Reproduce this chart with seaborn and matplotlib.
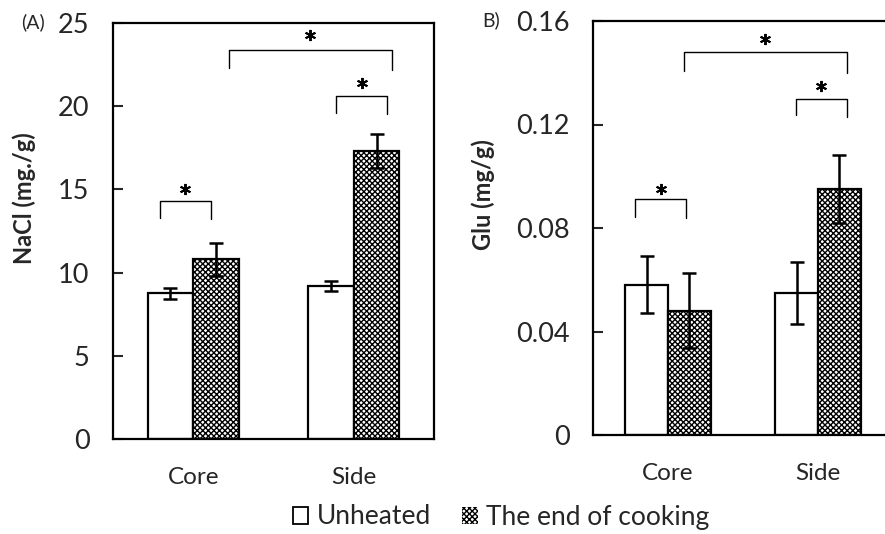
import matplotlib
matplotlib.use("Agg")
import matplotlib.pyplot as plt
import seaborn as sns
import pandas as pd
from matplotlib.patches import Patch

sites = ["Core", "Side"]
treatments = ["Unheated", "The end of cooking"]
nacl_unheated = [8.75, 9.2]
nacl_cooked = [10.8, 17.3]
nacl_err_unheated = [0.35, 0.28]
nacl_err_cooked = [1.0, 1.0]
glu_unheated = [0.058, 0.0549]
glu_cooked = [0.048, 0.0951]
glu_err_unheated = [0.011, 0.012]
glu_err_cooked = [0.0145, 0.013]

# significance brackets: (x_left, x_right, top, left_leg_bottom, right_leg_bottom, star_y)
nacl_brackets = [(-0.21, 0.11, 14.3, 13.3, 13.2, 15.0),
                 (0.89, 1.21, 20.6, 19.6, 19.55, 21.4),
                 (0.22, 1.24, 23.4, 22.3, 22.2, 24.3)]
glu_brackets = [(-0.22, 0.12, 0.0912, 0.0843, 0.0839, 0.0950),
                (0.85, 1.19, 0.130, 0.1237, 0.123, 0.1348),
                (0.107, 1.19, 0.148, 0.1407, 0.140, 0.1530)]

sns.set_theme(style="white")
plt.rcParams["font.family"] = ["Lato", "DejaVu Sans"]
plt.rcParams["hatch.linewidth"] = 1.0
HATCH = "xxxxxx"

fig = plt.figure(figsize=(8.85, 5.34), dpi=100)
axA = fig.add_axes([113/885, 1-439/534, 321/885, 416/534])
axB = fig.add_axes([593/885, 1-435/534, 300/885, 414/534])


def draw(ax, unheated, cooked, eu, ec, ylim, yticks, yticklabels, ylabel,
         brackets, label_x):
    df = pd.DataFrame({
        "site": sites * 2,
        "treatment": [treatments[0]] * 2 + [treatments[1]] * 2,
        "value": list(unheated) + list(cooked),
    })
    sns.barplot(data=df, x="site", y="value", hue="treatment", order=sites,
                hue_order=treatments, palette=["white", "white"], edgecolor="black",
                linewidth=1.6, width=0.57, errorbar=None, legend=False, ax=ax)
    for bar in ax.containers[1]:
        bar.set_hatch(HATCH)
    for cont, errs in zip(ax.containers, [eu, ec]):
        xs = [b.get_x() + b.get_width() / 2 for b in cont]
        ys = [b.get_height() for b in cont]
        ax.errorbar(xs, ys, yerr=errs, fmt="none", ecolor="black",
                    elinewidth=1.8, capsize=5, capthick=1.8, zorder=5)
    for (x0, x1, top, b0, b1, sy) in brackets:
        ax.plot([x0, x0, x1, x1], [b0, top, top, b1], color="black", lw=1.0,
                clip_on=False)
        ax.plot([(x0 + x1) / 2], [sy], marker=(6, 2, 0), markersize=8,
                markeredgewidth=1.4, color="black", clip_on=False)
    ax.set_xlim(-0.5, 1.5)
    ax.set_ylim(*ylim)
    ax.set_yticks(yticks)
    ax.set_yticklabels(yticklabels)
    ax.set_xlabel("")
    ax.set_ylabel(ylabel, fontsize=17, fontweight="bold")
    ax.yaxis.set_label_coords(label_x, 0.58)
    ax.tick_params(axis="y", direction="in", length=7, width=1.5, left=True,
                   pad=17, labelsize=19.5)
    ax.tick_params(axis="x", length=0, pad=20, labelsize=17.5)
    for s in ax.spines.values():
        s.set_linewidth(1.6)
        s.set_color("black")


draw(axA, nacl_unheated, nacl_cooked, nacl_err_unheated, nacl_err_cooked,
     (0, 25), [0, 5, 10, 15, 20, 25], ["0", "5", "10", "15", "20", "25"],
     "NaCl (mg./g)", nacl_brackets, (36 - 113) / 321)
draw(axB, glu_unheated, glu_cooked, glu_err_unheated, glu_err_cooked,
     (0, 0.16), [0, 0.04, 0.08, 0.12, 0.16], ["0", "0.04", "0.08", "0.12", "0.16"],
     "Glu (mg/g)", glu_brackets, (495 - 593) / 300)

fig.text(33/885, 1-22/534, "(A)", fontsize=14, ha="center", va="center")
fig.text(491/885, 1-20/534, "B)", fontsize=14, ha="center", va="center")

handles = [Patch(facecolor="white", edgecolor="black", linewidth=1.3, label=treatments[0]),
           Patch(facecolor="white", edgecolor="black", linewidth=0, hatch=HATCH,
                 label=treatments[1])]
fig.legend(handles=handles, loc="center", bbox_to_anchor=(501/885, 1-517/534), ncol=2,
           frameon=False, fontsize=19, handlelength=0.6, handleheight=0.6,
           handletextpad=0.3, columnspacing=1.2, borderpad=0)

fig.savefig("out.png", dpi=100)
